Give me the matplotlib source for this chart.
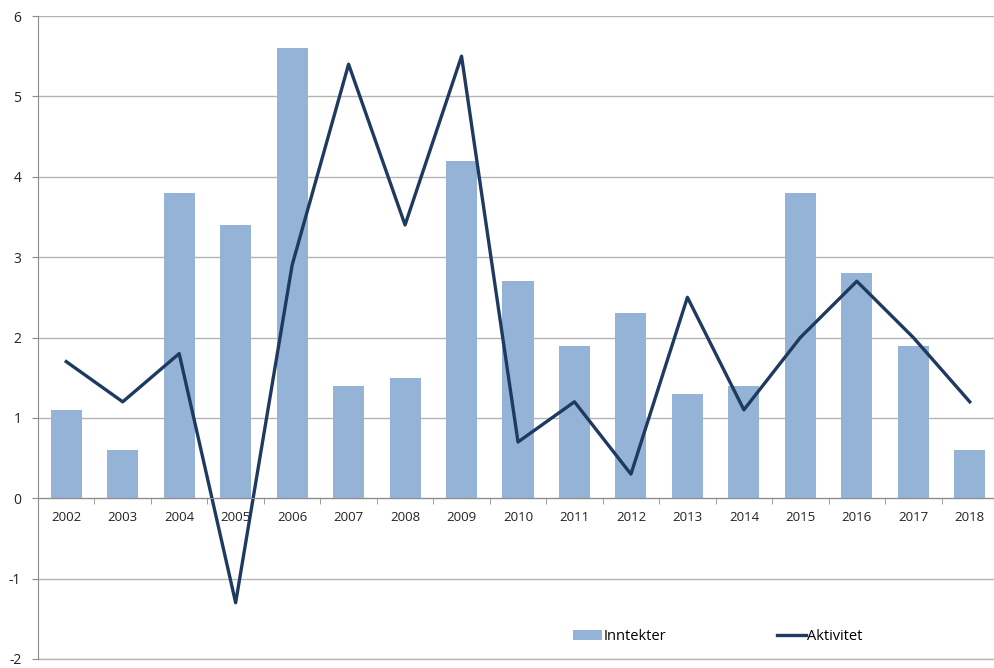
import numpy as np
import matplotlib.pyplot as plt
from matplotlib.ticker import MultipleLocator

years = ["2002", "2003", "2004", "2005", "2006", "2007", "2008", "2009", "2010",
         "2011", "2012", "2013", "2014", "2015", "2016", "2017", "2018"]
inntekter = [1.1, 0.6, 3.8, 3.4, 5.6, 1.4, 1.5, 4.2, 2.7, 1.9, 2.3, 1.3, 1.4, 3.8, 2.8, 1.9, 0.6]
aktivitet = [1.7, 1.2, 1.8, -1.3, 2.9, 5.4, 3.4, 5.5, 0.7, 1.2, 0.3, 2.5, 1.1, 2.0, 2.7, 2.0, 1.2]

BAR_COLOR = "#95b3d7"
LINE_COLOR = "#1f3a60"
GRID_COLOR = "#b4b4b4"

plt.rcParams["font.family"] = ["Open Sans", "DejaVu Sans"]
plt.rcParams["axes.unicode_minus"] = False

fig = plt.figure(figsize=(9.95, 6.68), dpi=100)
ax = fig.add_axes([38 / 995, 1 - 659 / 668, 960 / 995, (659 - 16) / 668])

x = np.arange(len(years))
bars = ax.bar(x, inntekter, width=0.55, color=BAR_COLOR, label="Inntekter", zorder=2)
line, = ax.plot(x, aktivitet, color=LINE_COLOR, linewidth=2.4, label="Aktivitet", zorder=3)

ax.set_xlim(-0.5, len(years) - 0.5)
ax.set_ylim(-2, 6)
ax.yaxis.set_major_locator(MultipleLocator(1))
ax.grid(axis="y", color=GRID_COLOR, linewidth=1.0, zorder=0)
ax.axhline(-2, color=GRID_COLOR, linewidth=1.0, clip_on=False, zorder=0)
ax.set_axisbelow(True)

for s in ["top", "right"]:
    ax.spines[s].set_visible(False)
ax.spines["left"].set_color("#8c8c8c")
ax.spines["bottom"].set_color("#8c8c8c")
ax.spines["bottom"].set_position(("data", 0))
ax.spines["bottom"].set_zorder(4)

ax.set_xticks(x)
ax.set_xticklabels(years)
ax.set_xticks(np.arange(len(years) - 1) + 0.5, minor=True)
ax.tick_params(axis="x", which="major", length=0, pad=9, labelsize=9.5, colors="#222222")
ax.tick_params(axis="x", which="minor", length=4, color="#8c8c8c", direction="out")
ax.tick_params(axis="y", length=4, color="#8c8c8c", pad=8, labelsize=10, labelcolor="#222222")

ax.legend([bars, line], ["Inntekter", "Aktivitet"], loc="lower left",
          bbox_to_anchor=((574 - 38 - 16) / 960, 0.0), ncol=2, frameon=False,
          fontsize=10.5, handlelength=2.0, handletextpad=0.1, columnspacing=7.6,
          borderaxespad=1.0, borderpad=0.0)

fig.savefig("out.png", dpi=100)
